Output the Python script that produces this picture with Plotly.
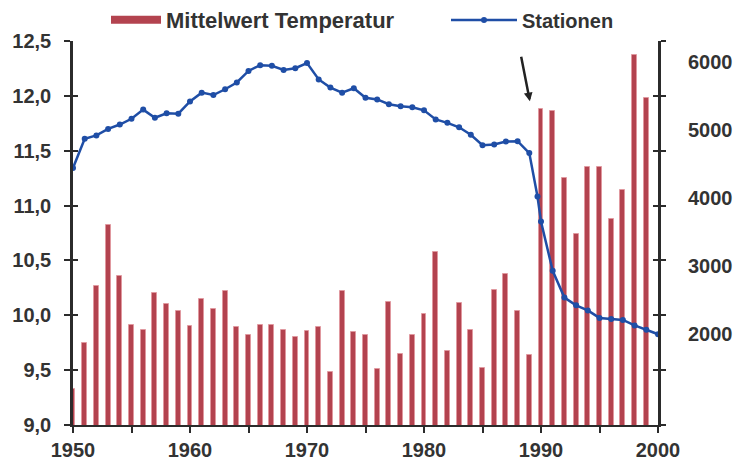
import plotly.graph_objects as go

# ---- data ----
temp_years = list(range(1950, 2000))
temp_values = [9.33, 9.75, 10.27, 10.82, 10.36, 9.91, 9.87, 10.20, 10.10, 10.04,
               9.90, 10.15, 10.06, 10.22, 9.89, 9.82, 9.91, 9.91, 9.87, 9.80,
               9.86, 9.89, 9.48, 10.22, 9.85, 9.82, 9.51, 10.12, 9.65, 9.82,
               10.01, 10.58, 9.67, 10.11, 9.87, 9.52, 10.23, 10.38, 10.04, 9.64,
               11.88, 11.86, 11.25, 10.74, 11.35, 11.35, 10.88, 11.14, 12.37, 11.98]

station_years = list(range(1950, 1990)) + [1989.7] + list(range(1990, 2001))
station_values = [4440, 4870, 4920, 5015, 5080, 5165, 5300, 5180, 5245, 5240,
                  5420, 5550, 5515, 5600, 5700, 5870, 5955, 5945, 5885, 5910,
                  5985, 5745, 5625, 5550, 5615, 5475, 5450, 5380, 5350, 5335,
                  5290, 5155, 5105, 5040, 4930, 4775, 4785, 4830, 4835, 4660,
                  4020,
                  3650, 2925, 2530, 2415, 2340, 2230, 2215, 2200, 2120, 2055, 1990]

temp_ticks = [9.0, 9.5, 10.0, 10.5, 11.0, 11.5, 12.0, 12.5]
station_ticks = [2000, 3000, 4000, 5000, 6000]
year_ticks = [1950, 1960, 1970, 1980, 1990, 2000]

temp_name = "Mittelwert Temperatur"
station_name = "Stationen"

# ---- styling ----
RED = "#b3434f"
BLUE = "#1f4ea6"
AXIS = "#2b2b2b"
TEXT = "#333333"
FONT = "Liberation Sans, Arial, sans-serif"
FS = 20

W, H = 746, 460
M_L, M_R, M_T, M_B = 73, 88, 41, 35
PLOT_W = W - M_L - M_R
PLOT_H = H - M_T - M_B
LEGEND_Y = 1 + (M_T - 20) / PLOT_H   # legend centre ~20 px from the top

fig = go.Figure()

fig.add_trace(go.Bar(
    x=temp_years, y=temp_values, width=0.42,
    marker=dict(color=RED, line=dict(color="rgba(225,150,158,0.85)", width=1)),
    showlegend=False, yaxis="y", hoverinfo="x+y",
))

# legend entry for the bars (wide swatch like the reference)
fig.add_trace(go.Scatter(
    x=[None], y=[None], mode="lines", name=f"<b>{temp_name}</b>",
    line=dict(color=RED, width=8), yaxis="y", legend="legend",
))

fig.add_trace(go.Scatter(
    x=station_years, y=station_values, mode="lines+markers",
    name=f"<b>{station_name}</b>",
    line=dict(color=BLUE, width=2.5),
    marker=dict(color=BLUE, size=6),
    yaxis="y2", legend="legend2",
))

fig.add_annotation(
    x=1989.05, y=11.95, xref="x", yref="y",
    ax=-9, ay=-46, axref="pixel", ayref="pixel",
    text="", showarrow=True, arrowhead=2, arrowsize=0.7,
    arrowwidth=2.5, arrowcolor="#222222",
)

tick_common = dict(tickcolor=AXIS, tickwidth=2, ticklen=6)
bold_ticks = dict(size=FS, color=TEXT, weight="bold")

legend_common = dict(
    orientation="h", xref="paper", yref="paper",
    y=LEGEND_Y, xanchor="left", yanchor="middle",
    bgcolor="rgba(0,0,0,0)",
)

fig.update_layout(
    width=W, height=H,
    margin=dict(l=M_L, r=M_R, t=M_T, b=M_B, autoexpand=False),
    paper_bgcolor="white", plot_bgcolor="white",
    separators=",.",
    font=dict(family=FONT, size=FS, color=TEXT),
    bargap=0,
    legend=dict(x=(106 - M_L) / PLOT_W, itemwidth=50,
                font=dict(size=22, color=TEXT), **legend_common),
    legend2=dict(x=(446 - M_L) / PLOT_W, itemwidth=66,
                 font=dict(size=FS, color=TEXT), **legend_common),
    xaxis=dict(
        range=[1950, 2000], tickvals=year_ticks, tickformat="d",
        showgrid=False, zeroline=False, automargin=False,
        showline=True, linecolor=AXIS, linewidth=2,
        ticks="outside", **tick_common,
        minor=dict(dtick=5, ticks="outside", ticklen=6, tickcolor=AXIS, tickwidth=2),
        tickfont=bold_ticks,
    ),
    yaxis=dict(
        range=[9.0, 12.5], tickvals=temp_ticks, tickformat=".1f",
        showgrid=False, zeroline=False, automargin=False,
        showline=True, linecolor=AXIS, linewidth=2.5,
        ticks="outside", **tick_common, ticklabelstandoff=9,
        tickfont=bold_ticks,
    ),
    yaxis2=dict(
        range=[652, 6311], tickvals=station_ticks, tickformat="d",
        overlaying="y", side="right", anchor="x", automargin=False,
        showgrid=False, zeroline=False, showline=False,
        ticks="", ticklabelstandoff=29,
        tickfont=bold_ticks,
    ),
    # inner half of the crossing ticks on the left axis
    yaxis3=dict(
        range=[9.0, 12.5], tickvals=temp_ticks, overlaying="y", side="left",
        anchor="x", showticklabels=False, showgrid=False, zeroline=False,
        showline=False, ticks="inside", tickcolor=AXIS, tickwidth=2, ticklen=5,
        automargin=False,
    ),
    # right axis line with crossing ticks at the left-scale positions
    yaxis4=dict(
        range=[9.0, 12.5], tickvals=temp_ticks, overlaying="y", side="right",
        anchor="x", showticklabels=False, showgrid=False, zeroline=False,
        showline=True, linecolor=AXIS, linewidth=2.5,
        ticks="outside", tickcolor=AXIS, tickwidth=2, ticklen=5,
        automargin=False,
    ),
    yaxis5=dict(
        range=[9.0, 12.5], tickvals=temp_ticks, overlaying="y", side="right",
        anchor="x", showticklabels=False, showgrid=False, zeroline=False,
        showline=False, ticks="inside", tickcolor=AXIS, tickwidth=2, ticklen=5,
        automargin=False,
    ),
)

# give the helper axes something to attach to (invisible)
for ax in ["y3", "y4", "y5"]:
    fig.add_trace(go.Scatter(x=[None], y=[None], yaxis=ax, showlegend=False,
                             hoverinfo="skip"))

fig.write_html("out.html",
               config={"displayModeBar": False},
               post_script="document.body.style.margin='0';")
